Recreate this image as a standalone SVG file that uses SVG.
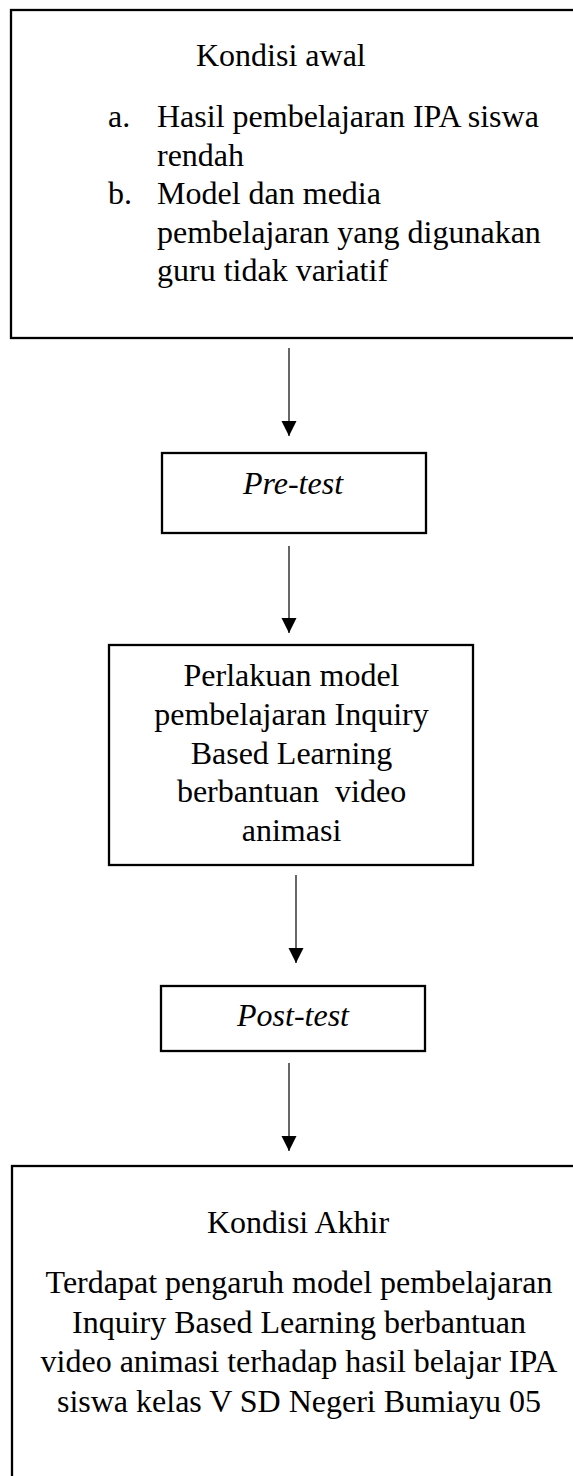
<svg xmlns="http://www.w3.org/2000/svg" width="573" height="1476" viewBox="0 0 573 1476">
<style>
.box{fill:#fff;stroke:#000;stroke-width:2.3}
.t{font-family:"Liberation Serif","Times New Roman",serif;font-size:32px;fill:#000}
.c{text-anchor:middle}
.i{font-style:italic}
.conn{stroke:#000;stroke-width:1.2;fill:none}
</style>
<defs>
<marker id="ah" markerUnits="userSpaceOnUse" markerWidth="16" markerHeight="16" refX="15" refY="7.5" orient="auto">
<path d="M0,0 L15,7.5 L0,15 Z" fill="#000"/>
</marker>
</defs>
<rect width="573" height="1476" fill="#fff"/>
<g id="kondisi-awal">
<rect class="box" x="11" y="10" width="600" height="328"/>
<text class="t" x="196" y="66">Kondisi awal</text>
<text class="t" x="108" y="127">a.</text>
<text class="t" x="157" y="127">Hasil pembelajaran IPA siswa</text>
<text class="t" x="157" y="165.5">rendah</text>
<text class="t" x="108" y="204">b.</text>
<text class="t" x="157" y="204">Model dan media</text>
<text class="t" x="157" y="242.5">pembelajaran yang digunakan</text>
<text class="t" x="157" y="281">guru tidak variatif</text>
</g>
<g id="pre-test">
<rect class="box" x="162" y="453" width="264" height="80"/>
<text class="t c i" x="293" y="494">Pre-test</text>
</g>
<g id="perlakuan">
<rect class="box" x="109" y="645" width="364" height="220"/>
<text class="t c" x="291.5" y="686">Perlakuan model</text>
<text class="t c" x="291.5" y="724.8">pembelajaran Inquiry</text>
<text class="t c" x="291.5" y="763.6">Based Learning</text>
<text class="t c" x="291.5" y="802.4" xml:space="preserve">berbantuan  video</text>
<text class="t c" x="291.5" y="841.2">animasi</text>
</g>
<g id="post-test">
<rect class="box" x="161" y="986" width="264" height="65"/>
<text class="t c i" x="293" y="1026">Post-test</text>
</g>
<g id="kondisi-akhir">
<rect class="box" x="12" y="1166" width="600" height="340"/>
<text class="t c" x="298" y="1233">Kondisi Akhir</text>
<text class="t c" x="299" y="1293">Terdapat pengaruh model pembelajaran</text>
<text class="t c" x="299" y="1332.5">Inquiry Based Learning berbantuan</text>
<text class="t c" x="299" y="1372">video animasi terhadap hasil belajar IPA</text>
<text class="t c" x="299" y="1411.5">siswa kelas V SD Negeri Bumiayu 05</text>
</g>
<g id="connectors">
<line class="conn" x1="289" y1="348" x2="289" y2="436" marker-end="url(#ah)"/>
<line class="conn" x1="289" y1="546" x2="289" y2="633" marker-end="url(#ah)"/>
<line class="conn" x1="296" y1="875" x2="296" y2="963" marker-end="url(#ah)"/>
<line class="conn" x1="289" y1="1063" x2="289" y2="1151" marker-end="url(#ah)"/>
</g>
</svg>
